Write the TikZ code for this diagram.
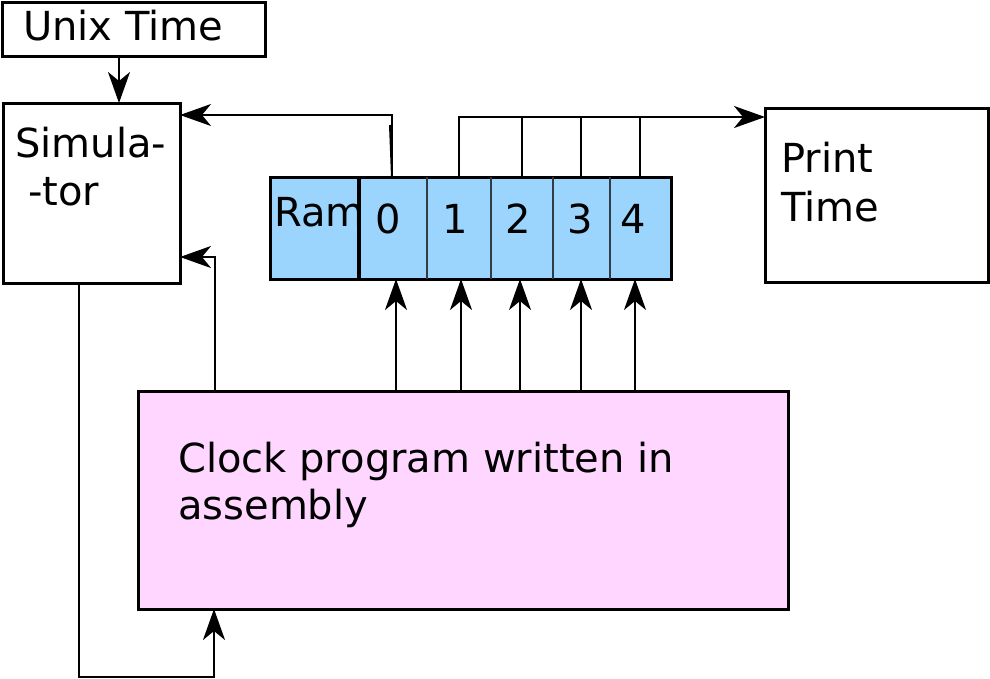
\documentclass[tikz,border=0pt]{standalone}
\usepackage{fontspec}
\setmainfont{DejaVu Sans}
\usetikzlibrary{arrows.meta}
\definecolor{ramblue}{RGB}{155,213,253}
\definecolor{clockpink}{RGB}{255,214,255}
\definecolor{divgray}{RGB}{50,60,70}
\begin{document}
\begin{tikzpicture}[x=1pt,y=-1pt,
 box/.style={draw,line width=3pt,inner sep=0pt,outer sep=0pt,anchor=center},
 lbl/.style={inner sep=0pt,font=\fontsize{40}{48}\selectfont},
 conn/.style={line width=2pt},
 arr/.style={conn,-{Stealth[length=31pt,width=22pt,inset=9pt]}}]
\useasboundingbox (0,0) rectangle (990,678);
% boxes
\node[box,fill=white,minimum width=263pt,minimum height=54pt] (unix) at (133.5,29) {};
\node[box,fill=white,minimum width=177pt,minimum height=180pt] (sim) at (91.5,193) {};
\node[box,fill=ramblue,minimum width=401pt,minimum height=102pt] (ram) at (470.5,228) {};
\node[box,fill=white,minimum width=223pt,minimum height=174pt] (print) at (876.5,195) {};
\node[box,fill=clockpink,minimum width=650pt,minimum height=218pt] (clock) at (463,500) {};
% ram dividers
\coordinate (d0) at (359,0);
\draw[line width=4pt] (ram.north -| d0) -- (ram.south -| d0);
\foreach \n/\x in {1/427,2/491,3/553,4/610}{
  \coordinate (d\n) at (\x,0);
  \draw[line width=1.2pt,divgray] (ram.north -| d\n) -- (ram.south -| d\n);
}
% labels
\node[lbl,anchor=base west] (tunix) at (23,40) {Unix Time};
\node[lbl,anchor=base west] (tsim1) at (15,157) {Simula-};
\node[lbl,anchor=base west] (tsim2) at (28,205) {-tor};
\node[lbl,anchor=base west] (tram) at (274,226) {Ram};
\foreach \n/\x in {0/388,1/455,2/518,3/580,4/633}{
  \node[lbl,anchor=base] (c\n) at (\x,233) {\n};
}
\node[lbl,anchor=base west] (tp1) at (781,172) {Print};
\node[lbl,anchor=base west] (tp2) at (781,221) {Time};
\node[lbl,anchor=base west] (tc1) at (178,472) {Clock program written in};
\node[lbl,anchor=base west] (tc2) at (178,519) {assembly};
% connectors
\coordinate (ux) at (119,0);
\draw[arr] (unix.south -| ux) -- (sim.north -| ux);
\coordinate (t0) at (392,115);
\draw[arr] (ram.north -| t0) -- (t0) -- (sim.east |- t0);
\draw[conn] (ram.north -| t0) -- ++(-2,-52);
\coordinate (u1) at (215,257);
\draw[arr] (clock.north -| u1) -- (u1) -- (sim.east |- u1);
\coordinate (b1) at (79,677);
\coordinate (b2) at (214,677);
\draw[arr] (sim.south -| b1) -- (b1) -- (b2) -- (clock.south -| b2);
\coordinate (p0) at (459,117);
\draw[arr] (ram.north -| p0) -- (p0) -- (print.west |- p0);
\foreach \n/\x in {1/522,2/581,3/640}{
  \coordinate (p\n) at (\x,117);
  \draw[conn] (ram.north -| p\n) -- (p\n);
}
\foreach \n/\x in {0/396,1/461,2/520,3/581,4/635}{
  \coordinate (a\n) at (\x,0);
  \draw[arr] (clock.north -| a\n) -- (ram.south -| a\n);
}
\end{tikzpicture}
\end{document}
